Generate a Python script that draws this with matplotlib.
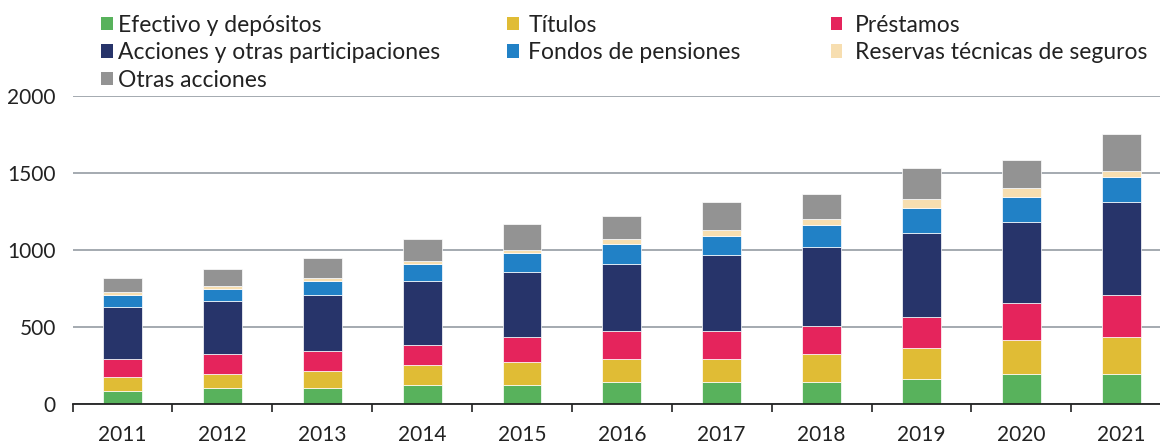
import numpy as np
import matplotlib
matplotlib.use("Agg")
import matplotlib.pyplot as plt
from matplotlib.patches import Patch

plt.rcParams['font.family'] = ['Lato', 'DejaVu Sans']

years = ['2011', '2012', '2013', '2014', '2015', '2016', '2017', '2018', '2019', '2020', '2021']

# componentes (apiladas de abajo a arriba)
efectivo = [89, 108, 108, 125, 125, 143, 143, 143, 162, 199, 199]
titulos = [90, 91, 108, 128, 147, 149, 149, 183, 201, 218, 238]
prestamos = [115, 127, 130, 130, 165, 184, 184, 184, 201, 238, 272]
acciones = [339, 346, 363, 419, 419, 436, 490, 508, 547, 530, 601]
fondos = [78, 74, 93, 110, 128, 126, 128, 147, 165, 162, 164]
reservas = [20, 19, 17, 18, 17, 37, 37, 37, 54, 56, 39]
otras = [88, 111, 128, 145, 166, 147, 181, 164, 201, 184, 238]

series = [
    ("Efectivo y depósitos", efectivo, '#58b25c'),
    ("Títulos", titulos, '#e0bc35'),
    ("Préstamos", prestamos, '#e5245c'),
    ("Acciones y otras participaciones", acciones, '#27346a'),
    ("Fondos de pensiones", fondos, '#2181c6'),
    ("Reservas técnicas de seguros", reservas, '#f7deb0'),
    ("Otras acciones", otras, '#939393'),
]

fig = plt.figure(figsize=(11.6, 4.45), dpi=100)
ax = fig.add_axes([0.0626, 0.0915, 0.947, 0.6928])

x = np.arange(len(years))
bottom = np.zeros(len(years))
handles = {}
for name, vals, col in series:
    ax.bar(x, vals, 0.39, bottom=bottom, color=col, edgecolor='white', linewidth=0.5, zorder=3)
    bottom += np.array(vals)
    handles[name] = Patch(facecolor=col, edgecolor='none')

ax.set_xlim(-0.5, 10.5)
ax.set_ylim(0, 2000)
ax.set_yticks([0, 500, 1000, 1500, 2000])
ax.grid(axis='y', color='#8c939b', linewidth=1.1, zorder=0)
ax.set_axisbelow(True)

for s in ['top', 'right', 'left']:
    ax.spines[s].set_visible(False)
ax.spines['bottom'].set_color('#222222')
ax.spines['bottom'].set_linewidth(1.3)
ax.spines['bottom'].set_zorder(4)

ax.set_xticks(x)
ax.set_xticklabels(years)
ax.set_xticks(np.arange(-0.5, 10.5, 1), minor=True)
ax.tick_params(axis='x', which='major', length=0, pad=15, labelsize=15, colors='#222222')
ax.tick_params(axis='x', which='minor', length=6, width=1.2, color='#222222')
ax.tick_params(axis='y', length=0, pad=12, labelsize=15, colors='#222222')

# leyenda en tres columnas
cols = [
    (0.0871, 0.2, ["Efectivo y depósitos", "Acciones y otras participaciones", "Otras acciones"]),
    (0.437, 0.42, ["Títulos", "Fondos de pensiones"]),
    (0.716, 0.55, ["Préstamos", "Reservas técnicas de seguros"]),
]
for xpos, pad, names in cols:
    fig.legend([handles[n] for n in names], names, loc='upper left',
               bbox_to_anchor=(xpos, 0.967), frameon=False, fontsize=16.5,
               handlelength=0.52, handleheight=0.52, handletextpad=pad,
               labelspacing=0.28, borderaxespad=0, borderpad=0,
               labelcolor='#222222')

fig.savefig('out.png', dpi=100)
